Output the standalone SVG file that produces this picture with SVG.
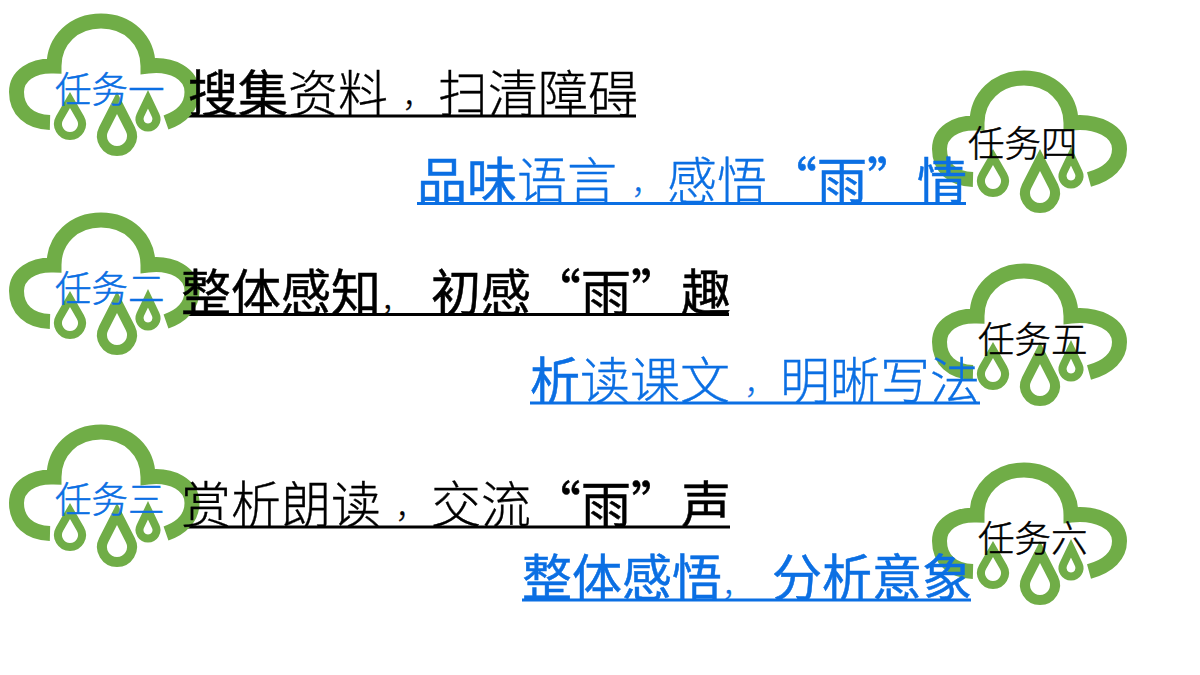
<svg xmlns="http://www.w3.org/2000/svg" width="1200" height="675" viewBox="0 0 1200 675">
<style>
text{font-family:"Noto Sans CJK SC","Noto Sans",sans-serif;font-weight:300;stroke-width:.35}
.h{font-size:50px}
.t{font-size:36.5px;stroke-width:.5}
.k{fill:#000;stroke:#000}
.b{fill:#0B6FE3;stroke:#0B6FE3}
.bo{stroke-width:.5;font-weight:400}
.c{font-family:"Noto Sans CJK TC",sans-serif;font-size:30px}
.m{font-size:30px}
.u{stroke-width:3;fill:none}
.arc{fill:none;stroke:#70AD47;stroke-width:15}
</style>
<defs>
<g id="drops" fill="none" stroke="#70AD47">
<path stroke-width="8" d="M70 100L80.400 118A12 12 0 1 1 59.600 118Z"/>
<path stroke-width="10" d="M117 103L130.400 129.200A15 15 0 1 1 103.600 129.200Z"/>
<path stroke-width="8" d="M148 99.300L155.700 115.400A8.500 8.500 0 1 1 140.300 115.400Z"/>
</g>
<path id="cl" class="arc" d="M50 122.500C29 122 16.500 110 16.500 92C16.500 76 32 65 54 66C54 40 74 21 101 21C128 21 148 40 148 66C172 63 192 74 192 92C192 106 182 117 166 122.500"/>
<path id="cw" class="arc" d="M50 122.500C29 122 16.500 110 16.500 92C16.500 76 32 65 54 66C54 40 74 21 101 21C128 21 148 40 148 66C174 63 196.500 74 196.500 92C196.500 106 186 117 166 122.500"/>
</defs>
<rect width="1200" height="675" fill="#fff"/>
<g id="connectors">
<path class="u" stroke="#000" d="M188 116H636M181 314.500H729M181 527H730"/>
<path class="u" stroke="#0B6FE3" d="M417 203.500H966M530 403H980M522 600H971"/>
</g>
<g id="task1"><use href="#cl"/><use href="#drops"/><text class="t b" x="55" y="103">任务一</text></g>
<g id="task2"><use href="#cl" y="199"/><use href="#drops" y="199"/><text class="t b" x="55" y="302">任务二</text></g>
<g id="task3"><use href="#cl" y="411"/><use href="#drops" y="411"/><text class="t b" x="55" y="513">任务三</text></g>
<g id="task4"><use href="#cw" x="923" y="57"/><use href="#drops" x="923" y="57"/><text class="t k" x="968" y="157">任务四</text></g>
<g id="task5"><use href="#cw" x="923" y="250"/><use href="#drops" x="923" y="250"/><text class="t k" x="978" y="353">任务五</text></g>
<g id="task6"><use href="#cw" x="923" y="449"/><use href="#drops" x="923" y="449"/><text class="t k" x="978" y="552">任务六</text></g>
<g id="line1"><text class="h k" x="188" y="112"><tspan class="bo">搜集</tspan>资料<tspan class="c" dx="6" dy="4">，</tspan><tspan dx="14" dy="-4">扫清障碍</tspan></text></g>
<g id="line4"><text class="h b" x="417" y="199"><tspan class="bo">品味</tspan>语言<tspan class="c" dx="6" dy="4">，</tspan><tspan dx="14" dy="-4">感悟</tspan><tspan class="bo">“雨”情</tspan></text></g>
<g id="line2"><text class="h k" x="181" y="311"><tspan class="bo">整体感知</tspan><tspan class="m">，</tspan><tspan class="bo" dx="20">初感“雨”趣</tspan></text></g>
<g id="line5"><text class="h b" x="530" y="399"><tspan class="bo">析</tspan>读课文<tspan class="c" dx="6" dy="4">，</tspan><tspan dx="14" dy="-4">明晰写法</tspan></text></g>
<g id="line3"><text class="h k" x="181" y="523">赏析朗读<tspan class="c" dx="6" dy="4">，</tspan><tspan dx="14" dy="-4">交流</tspan><tspan class="bo">“雨”声</tspan></text></g>
<g id="line6"><text class="h b" x="522" y="596"><tspan class="bo">整体感悟</tspan><tspan class="m">，</tspan><tspan class="bo" dx="20">分析意象</tspan></text></g>
</svg>
